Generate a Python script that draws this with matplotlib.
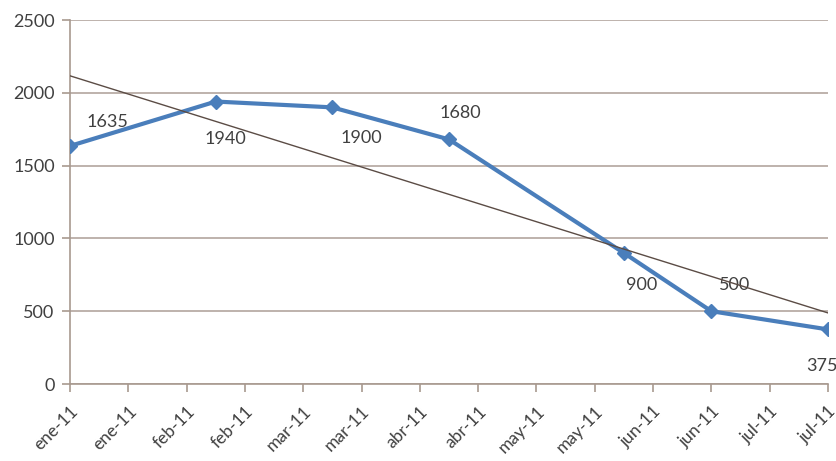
import matplotlib
matplotlib.use("Agg")
import matplotlib.pyplot as plt
import matplotlib.dates as mdates
from matplotlib.ticker import FuncFormatter
import numpy as np
import pandas as pd

# Data
dates = pd.to_datetime(["2011-01-15", "2011-02-19", "2011-03-19", "2011-04-16",
                        "2011-05-28", "2011-06-18", "2011-07-16"])
values = [1635, 1940, 1900, 1680, 900, 500, 375]
label_offsets = [(27, 17), (7, -27), (21, -22), (8, 19), (13, -23), (17, 19), (-4, -26)]
month_names = ["ene", "feb", "mar", "abr", "may", "jun", "jul",
               "ago", "sep", "oct", "nov", "dic"]
y_ticks = [0, 500, 1000, 1500, 2000, 2500]

plt.rcParams['font.family'] = ['Lato', 'DejaVu Sans']

fig = plt.figure(figsize=(8.37, 4.61), dpi=100)
ax = fig.add_axes([0.0836, 0.167, 0.9056, 0.7896])

x = mdates.date2num(dates)
ax.plot(x, values, color='#4a7ebb', lw=3, marker='D', markersize=7,
        markerfacecolor='#4a7ebb', markeredgecolor='#4a7ebb', zorder=3)

# linear trendline
coef = np.polyfit(x, values, 1)
ax.plot([x[0], x[-1]], np.polyval(coef, [x[0], x[-1]]), color='#5b4c45', lw=1, zorder=4)

for xi, v, off in zip(x, values, label_offsets):
    ax.annotate(str(v), (xi, v), xytext=off, textcoords='offset points',
                ha='center', va='center', fontsize=13, color='#404040',
                annotation_clip=False)

ax.set_xlim(x[0], x[-1])
ax.set_ylim(0, 2500)
tick_dates = pd.date_range(dates[0], dates[-1], freq='14D')
ax.set_xticks(mdates.date2num(tick_dates))
ax.xaxis.set_major_formatter(FuncFormatter(
    lambda v, p: f"{month_names[mdates.num2date(v).month - 1]}-{mdates.num2date(v).year % 100:02d}"))
ax.set_yticks(y_ticks)

gc = '#b3a59e'
ax.grid(axis='y', color=gc, lw=1.2)
ax.set_axisbelow(True)
for s in ['top', 'right']:
    ax.spines[s].set_visible(False)
for s in ['left', 'bottom']:
    ax.spines[s].set_color('#a8998f')
    ax.spines[s].set_linewidth(1.2)
ax.tick_params(axis='both', direction='out', length=6, color='#a8998f', width=1.2,
               labelsize=13, labelcolor='#404040')
ax.tick_params(axis='y', pad=5)
ax.tick_params(axis='x', labelsize=12.5, pad=8)
for lab in ax.get_xticklabels():
    lab.set_rotation(45)
    lab.set_ha('right')
    lab.set_va('top')
    lab.set_rotation_mode('anchor')

fig.savefig('out.png', dpi=100, facecolor='white')
